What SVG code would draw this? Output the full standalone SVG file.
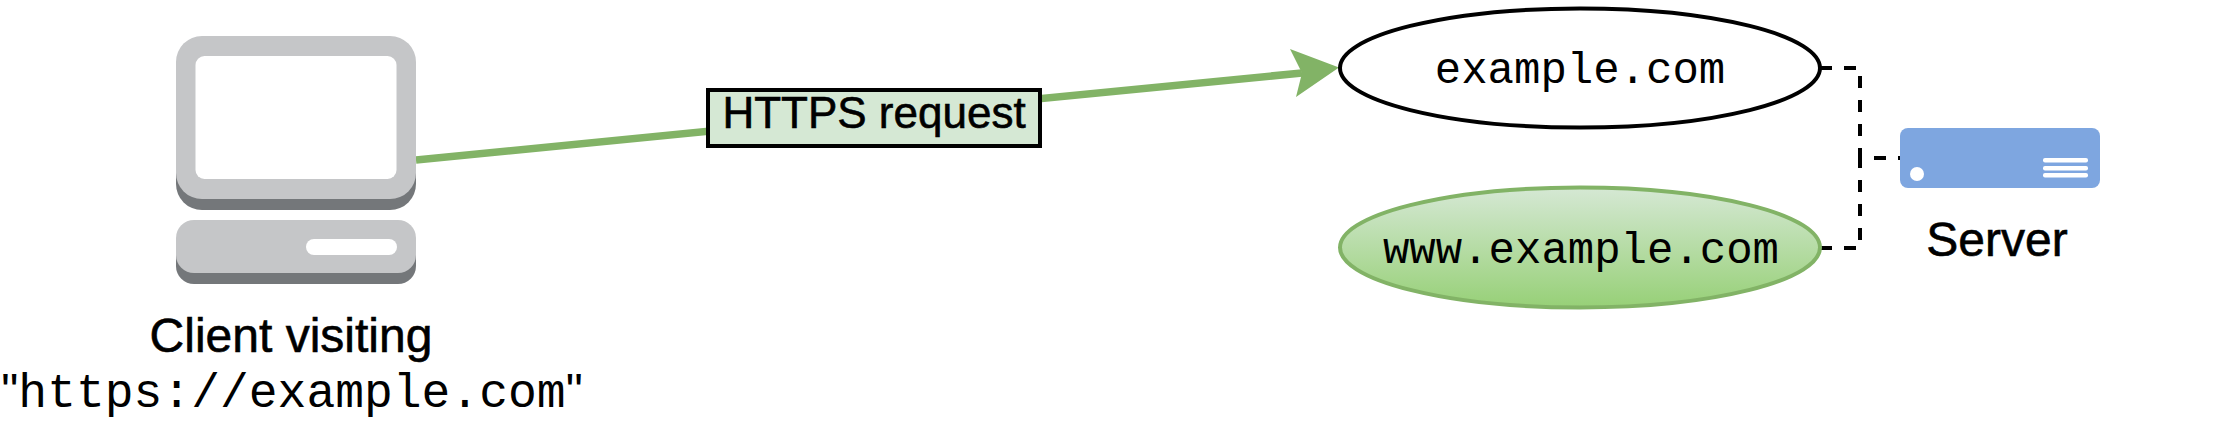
<svg xmlns="http://www.w3.org/2000/svg" width="2240" height="428" viewBox="0 0 2240 428">
<style>
.sans{font-family:"Liberation Sans",Arial,sans-serif;fill:#000;stroke:#000;stroke-width:.6;text-anchor:middle}
.mono{font-family:"Liberation Mono","Courier New",monospace;fill:#000;text-anchor:middle}
.dash{fill:none;stroke:#000;stroke-width:4;stroke-dasharray:12 12}
.light{fill:#c5c6c8}.dark{fill:#74777a}.hole{fill:#fff}
.srv{fill:#fff}
</style>
<defs>
<linearGradient id="g" x1="0" y1="0" x2="0" y2="1"><stop offset="0" stop-color="#d5e8d4"/><stop offset="1" stop-color="#97d077"/></linearGradient>
</defs>
<rect width="2240" height="428" fill="#fff"/>
<g id="connectors">
<path d="M416 160L1302 73" fill="none" stroke="#82b366" stroke-width="7.500"/>
<polygon points="1339,67.500 1290,49 1302,73 1296,97" fill="#82b366"/>
<path class="dash" d="M1820 68H1860V158H1900"/>
<path class="dash" d="M1820 248H1860V158H1900"/>
</g>
<g id="client">
<rect class="dark" x="176" y="47" width="240" height="163" rx="26"/>
<rect class="light" x="176" y="36" width="240" height="163" rx="26"/>
<rect class="hole" x="195.500" y="56" width="201" height="123" rx="9"/>
<rect class="dark" x="176" y="231" width="240" height="53" rx="18"/>
<rect class="light" x="176" y="220" width="240" height="53" rx="18"/>
<rect class="hole" x="306" y="239" width="91" height="16" rx="8"/>
<text class="sans" x="291" y="352" font-size="48">Client visiting</text>
<text x="292" y="407" font-size="48" text-anchor="middle" font-family="Liberation Sans, Arial, sans-serif">"<tspan font-family="Liberation Mono, Courier New, monospace">https://example.com</tspan>"</text>
</g>
<g id="label">
<rect x="708" y="90" width="332" height="56" fill="#d5e8d4" stroke="#000" stroke-width="4"/>
<text class="sans" x="874" y="128" font-size="44">HTTPS request</text>
</g>
<g id="apex">
<ellipse cx="1580" cy="68" rx="240" ry="59.500" fill="#fff" stroke="#000" stroke-width="4"/>
<text class="mono" x="1580" y="83" font-size="44">example.com</text>
</g>
<g id="www">
<ellipse cx="1580" cy="247.500" rx="240" ry="60" fill="url(#g)" stroke="#82b366" stroke-width="4"/>
<text class="mono" x="1581" y="263" font-size="44">www.example.com</text>
</g>
<g id="server">
<rect x="1900" y="128" width="200" height="60" rx="8" fill="#7ea6e0"/>
<circle class="srv" cx="1917" cy="174" r="7"/>
<rect class="srv" x="2043" y="158" width="45" height="4.500" rx="2"/>
<rect class="srv" x="2043" y="166" width="45" height="4.500" rx="2"/>
<rect class="srv" x="2043" y="173" width="45" height="4.500" rx="2"/>
<text class="sans" x="1997" y="256" font-size="48">Server</text>
</g>
</svg>
